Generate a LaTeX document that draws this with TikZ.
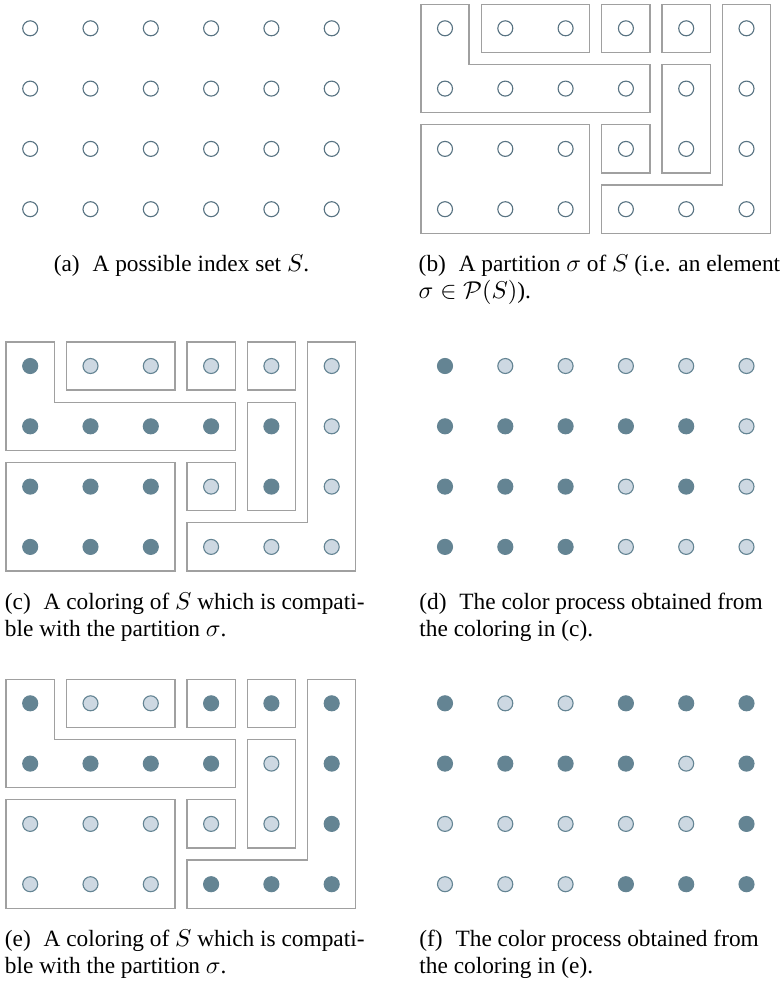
\documentclass[tikz,border=0pt]{standalone}
\usepackage[no-math]{fontspec}
\setmainfont{Liberation Serif}
\definecolor{dotline}{RGB}{88,115,130}
\definecolor{darkfill}{RGB}{100,132,147}
\definecolor{lightfill}{RGB}{205,216,226}
\definecolor{boxgray}{RGB}{160,160,160}
\tikzset{
  dotbase/.style={circle, inner sep=0pt, minimum size=6.75pt, line width=0.5pt},
  ee/.style={dotbase, draw=dotline, fill=white},
  dk/.style={dotbase, draw=darkfill, fill=darkfill},
  lt/.style={dotbase, draw=darkfill, fill=lightfill},
  part/.style={draw=boxgray, line width=0.6pt},
  gridunit/.style={x=27.135pt, y=-27.135pt},
  captext/.style={anchor=base west, inner sep=0pt, font=\fontsize{10.5}{12}\selectfont}
}
\newcommand\partitionboxes{%
  \draw[part] (-0.4,-0.4) -- (0.4,-0.4) -- (0.4,0.6) -- (3.4,0.6) -- (3.4,1.4) -- (-0.4,1.4) -- cycle;
  \draw[part] (0.6,-0.4) rectangle (2.4,0.4);
  \draw[part] (2.6,-0.4) rectangle (3.4,0.4);
  \draw[part] (3.6,-0.4) rectangle (4.4,0.4);
  \draw[part] (4.6,-0.4) -- (5.4,-0.4) -- (5.4,3.4) -- (2.6,3.4) -- (2.6,2.6) -- (4.6,2.6) -- cycle;
  \draw[part] (3.6,0.6) rectangle (4.4,2.4);
  \draw[part] (2.6,1.6) rectangle (3.4,2.4);
  \draw[part] (-0.4,1.6) rectangle (2.4,3.4);
}
\newcommand\dotgrid[2]{%
  \foreach \rowlist [count=\ri from 0] in {#2} {
    \foreach \st [count=\ci from 0] in \rowlist {
      \node[\st] (#1-\ri-\ci) at (\ci,\ri) {};
    }
  }
}
\begin{document}
\begin{tikzpicture}[x=0.45pt, y=-0.45pt]
\useasboundingbox (0,0) rectangle (783,986);
% (a)
\begin{scope}[shift={(30.2,28.3)}, gridunit]
  \dotgrid{a}{{ee,ee,ee,ee,ee,ee},{ee,ee,ee,ee,ee,ee},{ee,ee,ee,ee,ee,ee},{ee,ee,ee,ee,ee,ee}}
\end{scope}
% (b)
\begin{scope}[shift={(445,28.3)}, gridunit]
  \partitionboxes
  \dotgrid{b}{{ee,ee,ee,ee,ee,ee},{ee,ee,ee,ee,ee,ee},{ee,ee,ee,ee,ee,ee},{ee,ee,ee,ee,ee,ee}}
\end{scope}
% (c)
\begin{scope}[shift={(30.2,366)}, gridunit]
  \partitionboxes
  \dotgrid{c}{{dk,lt,lt,lt,lt,lt},{dk,dk,dk,dk,dk,lt},{dk,dk,dk,lt,dk,lt},{dk,dk,dk,lt,lt,lt}}
\end{scope}
% (d)
\begin{scope}[shift={(445,366)}, gridunit]
  \dotgrid{d}{{dk,lt,lt,lt,lt,lt},{dk,dk,dk,dk,dk,lt},{dk,dk,dk,lt,dk,lt},{dk,dk,dk,lt,lt,lt}}
\end{scope}
% (e)
\begin{scope}[shift={(30.2,703.3)}, gridunit]
  \partitionboxes
  \dotgrid{e}{{dk,lt,lt,dk,dk,dk},{dk,dk,dk,dk,lt,dk},{lt,lt,lt,lt,lt,dk},{lt,lt,lt,dk,dk,dk}}
\end{scope}
% (f)
\begin{scope}[shift={(445,703.3)}, gridunit]
  \dotgrid{f}{{dk,lt,lt,dk,dk,dk},{dk,dk,dk,dk,lt,dk},{lt,lt,lt,lt,lt,dk},{lt,lt,lt,dk,dk,dk}}
\end{scope}
% captions
\node[captext, anchor=base] (capa) at (181.5,271.5) {(a)\hspace{0.55em}A possible index set $S$.};
\node[captext] (capb1) at (418.3,271.5) {(b)\hspace{0.55em}A partition $\sigma$ of $S$ (i.e. an element};
\node[captext] (capb2) at (418.3,298.5) {$\sigma\in\mathcal{P}(S)$).};
\node[captext] (capc1) at (4.5,609) {(c)\hspace{0.55em}A coloring of $S$ which is compati-};
\node[captext] (capc2) at (4.5,636) {ble with the partition $\sigma$.};
\node[captext] (capd1) at (419,609) {(d)\hspace{0.55em}The color process obtained from};
\node[captext] (capd2) at (419,636) {the coloring in (c).};
\node[captext] (cape1) at (4.5,946.5) {(e)\hspace{0.55em}A coloring of $S$ which is compati-};
\node[captext] (cape2) at (4.5,973.3) {ble with the partition $\sigma$.};
\node[captext] (capf1) at (419,946.5) {(f)\hspace{0.55em}The color process obtained from};
\node[captext] (capf2) at (419,973.3) {the coloring in (e).};
\end{tikzpicture}
\end{document}
